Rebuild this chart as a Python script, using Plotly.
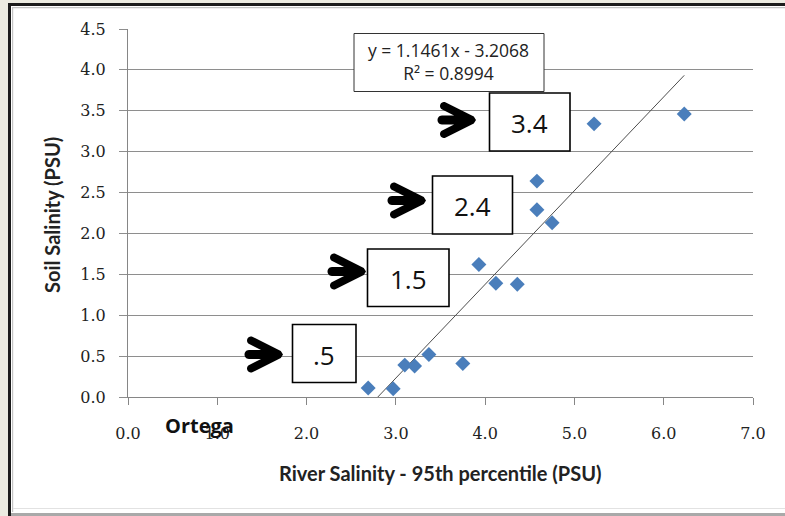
import math
import plotly.graph_objects as go

# ---- data ----
river_salinity = [2.69, 2.97, 3.10, 3.21, 3.37, 3.75, 3.93, 4.12, 4.36, 4.58, 4.58, 4.75, 5.22, 6.23]
soil_salinity = [0.11, 0.10, 0.39, 0.38, 0.52, 0.41, 1.62, 1.39, 1.38, 2.64, 2.29, 2.13, 3.34, 3.46]
trend_slope = 1.1461
trend_intercept = -3.2068
r_squared = 0.8994
x_ticks = [0, 1, 2, 3, 4, 5, 6, 7]
y_ticks = [0, 0.5, 1.0, 1.5, 2.0, 2.5, 3.0, 3.5, 4.0, 4.5]
level_labels = [".5", "1.5", "2.4", "3.4"]

# ---- layout geometry (pixels) ----
W_PX, H_PX = 785, 516
ML, MR, MT, MB = 128, 32, 29, 119
PW = W_PX - ML - MR
PH = H_PX - MT - MB


def px(X):
    return (X - ML) / PW


def py(Y):
    return (H_PX - MB - Y) / PH


x_min, x_max = min(river_salinity), max(river_salinity)
trend_x = [x_min, x_max]
trend_y = [trend_slope * v + trend_intercept for v in trend_x]

fig = go.Figure()
fig.add_trace(go.Scatter(x=trend_x, y=trend_y, mode="lines",
                         line=dict(color="#4d4d4d", width=1), hoverinfo="skip"))
fig.add_trace(go.Scatter(x=river_salinity, y=soil_salinity, mode="markers",
                         marker=dict(symbol="diamond", size=11.5, color="#4a7ebb",
                                     line=dict(width=0))))

shapes = []


def rect_px(x0, y0, x1, y1, fill, line_w=0, line_c=None, layer="below"):
    shapes.append(dict(type="rect", xref="paper", yref="paper",
                       x0=px(x0), x1=px(x1), y0=py(y1), y1=py(y0),
                       fillcolor=fill, layer=layer,
                       line=dict(width=line_w, color=line_c or fill)))


# frame
rect_px(0, 0, 8, 516, "#ecebe1")
rect_px(0, 0, 785, 3, "#ecebe1")
rect_px(8, 3, 11, 516, "#1c1c1c")
rect_px(8, 3, 785, 6, "#1c1c1c")
rect_px(12, 7, 13.2, 512, "#c4c4c4")
rect_px(12, 7, 785, 8.2, "#c4c4c4")
rect_px(13, 508, 785, 509, "#e2e2e2")
rect_px(11, 513, 785, 516, "#a9a9a9")


# arrows
def arrow_path(ox, cy):
    h = 4.0
    C0 = (5.0, -14.0)
    C1 = (33.0, 0.0)
    dx, dy = C1[0] - C0[0], C1[1] - C0[1]
    L = math.hypot(dx, dy)
    u = (dx / L, dy / L)
    n = (-u[1], u[0])
    top = []
    for a in range(180, 271, 15):
        r = math.radians(a)
        top.append((3 + 4.5 * math.cos(r), 4.5 * math.sin(r)))
    low0 = (C0[0] + h * n[0], C0[1] + h * n[1])
    t = (-4.5 - low0[1]) / u[1]
    top.append((low0[0] + t * u[0], -4.5))
    a0 = math.degrees(math.atan2(n[1], n[0]))
    for k in range(0, 13):
        a = math.radians(a0 + 180 * k / 12)
        top.append((C0[0] + h * math.cos(a), C0[1] + h * math.sin(a)))
    top.append((C1[0] - h * n[0], C1[1] - h * n[1]))
    top.append((37.0, 0.0))
    bottom = [(x, -y) for (x, y) in reversed(top[:-1])]
    pts = top + bottom
    d = "M " + " L ".join(f"{px(ox + x):.5f},{py(cy + y):.5f}" for x, y in pts) + " Z"
    return d


arrow_pos = [(246, 354.5), (329, 271.5), (389, 200.5), (439, 120)]
for ox, cy in arrow_pos:
    shapes.append(dict(type="path", xref="paper", yref="paper", path=arrow_path(ox, cy),
                       fillcolor="black", line=dict(width=0), layer="above"))

# label boxes
box_px = [(292.5, 324.5, 356, 382.5), (367.5, 249, 449, 306.5),
          (432.5, 176, 512.5, 234), (489.5, 93, 570, 151)]
annotations = []
for (x0, y0, x1, y1), lab in zip(box_px, level_labels):
    rect_px(x0, y0, x1, y1, "white", 1.6, "black", layer="above")
    annotations.append(dict(xref="paper", yref="paper", x=px((x0 + x1) / 2), y=py((y0 + y1) / 2 + 1),
                            text=lab, showarrow=False, xanchor="center", yanchor="middle",
                            font=dict(family="Open Sans", size=26, color="#111")))

# equation box
rect_px(354, 33.5, 544, 91.5, "white", 1, "#333", layer="above")
annotations.append(dict(xref="paper", yref="paper", x=px(448), y=py(61),
                        text=f"y = {trend_slope}x - {abs(trend_intercept)}<br>R² = {r_squared}",
                        showarrow=False, xanchor="center", yanchor="middle", align="center",
                        font=dict(family="Open Sans", size=17.5, color="#222")))

# Ortega label
annotations.append(dict(xref="paper", yref="paper", x=px(199), y=py(425),
                        text="<b>Ortega</b>", showarrow=False,
                        xanchor="center", yanchor="middle",
                        font=dict(family="Open Sans", size=20, color="#111")))

# axis titles
annotations.append(dict(xref="paper", yref="paper", x=px(440), y=py(473),
                        text="<b>River Salinity - 95th percentile (PSU)</b>", showarrow=False,
                        xanchor="center", yanchor="middle",
                        font=dict(family="Lato", size=20, color="#222")))
annotations.append(dict(xref="paper", yref="paper", x=px(52), y=py(215),
                        text="<b>Soil Salinity (PSU)</b>", showarrow=False, textangle=-90,
                        xanchor="center", yanchor="middle",
                        font=dict(family="Lato", size=20, color="#222")))

tick_font = dict(family="DejaVu Serif", size=16, color="#222")
fig.update_layout(
    width=W_PX, height=H_PX,
    margin=dict(l=ML, r=MR, t=MT, b=MB, autoexpand=False),
    paper_bgcolor="white", plot_bgcolor="white",
    showlegend=False,
    shapes=shapes, annotations=annotations,
    xaxis=dict(range=[0, 7], tickvals=x_ticks, ticktext=[f"{v:.1f}" for v in x_ticks],
               showgrid=False, zeroline=False, showline=True, linecolor="#868686", linewidth=1,
               ticks="outside", ticklen=7, tickcolor="#868686", tickfont=tick_font,
               ticklabelstandoff=15, fixedrange=True),
    yaxis=dict(range=[0, 4.5], tickvals=y_ticks, ticktext=[f"{v:.1f}" for v in y_ticks],
               showgrid=True, gridcolor="#8e8e8e", gridwidth=1, zeroline=False,
               showline=True, linecolor="#868686", linewidth=1,
               ticks="outside", ticklen=8, tickcolor="#8e8e8e", tickfont=tick_font,
               ticklabelstandoff=10, fixedrange=True),
)

fig.write_html("out.html")
